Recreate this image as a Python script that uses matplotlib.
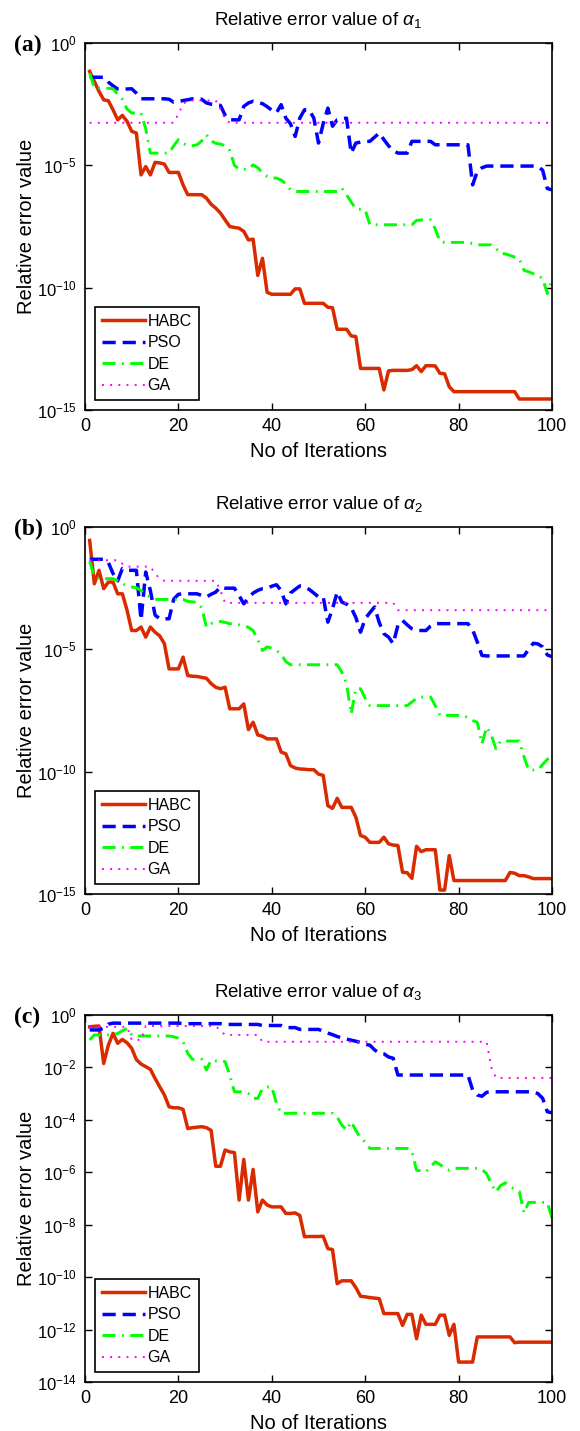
import numpy as np
import matplotlib
matplotlib.use("Agg")
import matplotlib.pyplot as plt

plt.rcParams['font.family'] = ['Liberation Sans', 'DejaVu Sans']
plt.rcParams['mathtext.fontset'] = 'custom'
plt.rcParams['mathtext.rm'] = 'Liberation Sans'
plt.rcParams['mathtext.it'] = 'Liberation Sans:italic'
plt.rcParams['mathtext.bf'] = 'Liberation Sans:bold'

iterations = list(range(1, 101))
series_names = ["HABC", "PSO", "DE", "GA"]
panel_letters = ["(a)", "(b)", "(c)"]
panel_titles = [r"Relative error value of $\alpha_1$",
                r"Relative error value of $\alpha_2$",
                r"Relative error value of $\alpha_3$"]
x_ticks = [0, 20, 40, 60, 80, 100]

# values stored as log10(relative error)
habc_a = [-1.16,-1.57,-1.98,-2.32,-2.36,-2.73,-3.14,-2.96,-3.2,-3.61,
          -3.68,-5.39,-5.05,-5.39,-4.88,-4.9,-4.95,-5.29,-5.29,-5.29,
          -5.8,-6.2,-6.2,-6.2,-6.2,-6.34,-6.59,-6.75,-6.95,-7.23,
          -7.5,-7.54,-7.57,-7.7,-8.05,-8.02,-9.5,-8.8,-10.19,-10.27,
          -10.27,-10.27,-10.27,-10.27,-10.05,-10.05,-10.64,-10.64,-10.64,-10.64,
          -10.64,-10.8,-10.82,-11.7,-11.7,-11.7,-11.97,-12.0,-13.3,-13.3,
          -13.3,-13.3,-13.3,-14.18,-13.4,-13.38,-13.38,-13.38,-13.38,-13.35,
          -13.19,-13.43,-13.19,-13.19,-13.2,-13.5,-13.52,-14.05,-14.25,-14.25,
          -14.25,-14.25,-14.25,-14.25,-14.25,-14.25,-14.25,-14.25,-14.25,-14.25,
          -14.25,-14.25,-14.55,-14.55,-14.55,-14.55,-14.55,-14.55,-14.55,-14.55]
pso_a = [-1.4,-1.4,-1.4,-1.4,-1.6,-1.75,-1.88,-1.9,-1.88,-1.87,
         -2.05,-2.28,-2.28,-2.28,-2.28,-2.28,-2.28,-2.3,-2.42,-2.4,
         -2.35,-2.32,-2.28,-2.28,-2.3,-2.45,-2.5,-2.52,-2.55,-2.95,
         -3.14,-3.14,-3.14,-2.59,-2.45,-2.38,-2.42,-2.48,-2.6,-2.75,
         -2.85,-2.52,-3.07,-3.3,-3.82,-3.07,-2.73,-2.73,-3.07,-4.09,
         -3.3,-2.66,-3.4,-3.14,-3.1,-3.07,-4.5,-4.09,-4.05,-4.02,
         -4.02,-3.85,-3.68,-3.95,-4.2,-4.4,-4.5,-4.5,-4.5,-4.02,
         -4.02,-4.02,-4.02,-4.02,-4.16,-4.16,-4.16,-4.16,-4.16,-4.16,
         -4.16,-4.16,-5.8,-5.25,-5.1,-5.03,-5.03,-5.03,-5.03,-5.03,
         -5.03,-5.03,-5.03,-5.03,-5.03,-5.03,-5.05,-5.2,-5.95,-6.0]
de_a = [-1.23,-1.84,-1.84,-1.84,-1.85,-1.87,-2.1,-2.3,-2.7,-2.86,
        -2.86,-2.86,-3.5,-4.5,-4.5,-4.5,-4.5,-4.5,-4.2,-3.95,
        -4.1,-4.2,-4.2,-4.16,-4.0,-3.75,-4.0,-4.1,-4.13,-4.2,
        -4.4,-5.0,-5.16,-5.16,-5.16,-4.98,-5.1,-5.3,-5.45,-5.52,
        -5.52,-5.6,-5.75,-6.0,-6.07,-6.07,-6.07,-6.07,-6.07,-6.07,
        -6.07,-6.07,-6.07,-6.07,-5.93,-6.2,-6.5,-6.78,-6.8,-6.82,
        -7.43,-7.43,-7.43,-7.43,-7.43,-7.43,-7.43,-7.43,-7.43,-7.43,
        -7.25,-7.23,-7.23,-7.23,-7.6,-8.11,-8.15,-8.15,-8.15,-8.15,
        -8.15,-8.15,-8.2,-8.25,-8.25,-8.25,-8.25,-8.4,-8.6,-8.62,
        -8.68,-8.75,-8.82,-9.29,-9.35,-9.43,-9.5,-9.63,-10.24,-9.7]
ga_a = [-3.26,-3.26,-3.26,-3.26,-3.26,-3.26,-3.26,-3.26,-3.26,-3.26,
        -3.26,-3.26,-3.26,-3.26,-3.26,-3.26,-3.26,-3.26,-3.26,-2.9,
        -2.5,-2.35,-2.35,-2.35,-2.35,-2.35,-2.35,-2.35,-2.7,-3.1,
        -3.26,-3.26,-3.26,-3.26,-3.26,-3.26,-3.26,-3.26,-3.26,-3.26,
        -3.26,-3.26,-3.26,-3.26,-3.26,-3.26,-3.26,-3.26,-3.26,-3.26,
        -3.26,-3.26,-3.26,-3.26,-3.26,-3.26,-3.26,-3.26,-3.26,-3.26,
        -3.26,-3.26,-3.26,-3.26,-3.26,-3.26,-3.26,-3.26,-3.26,-3.26,
        -3.26,-3.26,-3.26,-3.26,-3.26,-3.26,-3.26,-3.26,-3.26,-3.26,
        -3.26,-3.26,-3.26,-3.26,-3.26,-3.26,-3.26,-3.26,-3.26,-3.26,
        -3.26,-3.26,-3.26,-3.26,-3.26,-3.26,-3.26,-3.26,-3.26,-3.26]

habc_b = [-0.55,-2.32,-1.77,-2.52,-2.25,-2.25,-2.73,-2.73,-3.4,-4.23,
          -4.23,-4.09,-4.5,-4.09,-4.3,-4.45,-4.77,-5.8,-5.8,-5.8,
          -5.32,-6.07,-6.1,-6.11,-6.15,-6.18,-6.4,-6.55,-6.61,-6.55,
          -7.43,-7.43,-7.43,-7.23,-8.28,-7.98,-8.5,-8.55,-8.66,-8.66,
          -8.66,-9.2,-9.27,-9.75,-9.85,-9.89,-9.9,-9.92,-9.92,-10.1,
          -10.15,-11.39,-11.5,-11.09,-11.46,-11.46,-11.46,-11.86,-12.61,-12.68,
          -12.89,-12.89,-12.89,-12.68,-12.95,-13.0,-13.02,-14.11,-14.13,-14.36,
          -13.05,-13.27,-13.19,-13.19,-13.19,-14.84,-14.84,-13.43,-14.45,-14.45,
          -14.45,-14.45,-14.45,-14.45,-14.45,-14.45,-14.45,-14.45,-14.45,-14.45,
          -14.12,-14.15,-14.25,-14.25,-14.3,-14.37,-14.37,-14.37,-14.37,-14.37]
pso_b = [-1.32,-1.32,-1.32,-1.32,-1.45,-1.9,-2.2,-1.7,-1.77,-1.77,
         -1.77,-3.8,-1.84,-2.6,-3.6,-3.75,-3.75,-3.75,-2.95,-2.75,
         -2.73,-2.73,-2.73,-2.73,-2.8,-2.86,-2.75,-2.66,-2.45,-2.5,
         -2.5,-2.5,-2.8,-3.14,-2.9,-2.7,-2.59,-2.52,-2.5,-2.42,
         -2.36,-2.6,-3.14,-2.7,-2.55,-2.41,-2.45,-2.55,-2.7,-2.86,
         -2.85,-3.89,-3.34,-2.66,-3.07,-3.15,-3.3,-3.7,-4.3,-3.75,
         -3.5,-3.27,-3.9,-4.36,-4.5,-4.77,-4.02,-3.82,-4.0,-4.16,
         -4.23,-4.23,-4.23,-4.05,-3.95,-3.95,-3.95,-3.95,-3.95,-3.95,
         -3.95,-3.95,-4.2,-4.7,-5.25,-5.27,-5.27,-5.27,-5.27,-5.27,
         -5.27,-5.27,-5.27,-5.27,-5.0,-4.75,-4.78,-4.9,-5.23,-5.3]
de_b = [-1.4,-2.05,-2.11,-2.11,-2.11,-2.11,-2.2,-2.32,-2.4,-2.45,
        -2.48,-2.6,-2.75,-2.86,-2.96,-2.96,-2.96,-2.96,-2.96,-2.96,
        -2.96,-3.04,-3.06,-3.08,-3.3,-4.09,-3.95,-3.9,-3.86,-3.9,
        -3.95,-3.97,-4.0,-4.05,-4.1,-4.23,-4.6,-5.05,-4.9,-4.95,
        -5.05,-5.2,-5.5,-5.63,-5.63,-5.63,-5.63,-5.63,-5.63,-5.63,
        -5.63,-5.63,-5.63,-5.63,-5.93,-6.4,-7.64,-6.61,-6.61,-7.0,
        -7.3,-7.3,-7.3,-7.3,-7.3,-7.3,-7.3,-7.3,-7.3,-7.15,
        -7.0,-6.95,-6.95,-6.95,-7.3,-7.7,-7.7,-7.7,-7.7,-7.7,
        -7.7,-7.8,-7.91,-7.98,-8.86,-8.18,-8.5,-9.07,-8.75,-8.75,
        -8.75,-8.75,-8.75,-9.39,-9.93,-9.93,-9.93,-9.7,-9.5,-9.32]
ga_b = [-1.36,-1.36,-1.36,-1.36,-1.36,-1.36,-1.36,-1.5,-1.62,-1.62,
        -1.62,-1.62,-1.62,-1.62,-1.9,-2.11,-2.2,-2.2,-2.2,-2.2,
        -2.2,-2.2,-2.2,-2.2,-2.2,-2.2,-2.2,-2.2,-2.6,-3.1,
        -3.1,-3.1,-3.1,-3.1,-3.1,-3.1,-3.1,-3.1,-3.1,-3.1,
        -3.1,-3.1,-3.1,-3.1,-3.1,-3.1,-3.1,-3.1,-3.1,-3.1,
        -3.1,-3.1,-3.1,-3.1,-3.1,-3.1,-3.1,-3.1,-3.1,-3.1,
        -3.1,-3.1,-3.1,-3.1,-3.1,-3.1,-3.4,-3.4,-3.4,-3.4,
        -3.4,-3.4,-3.4,-3.4,-3.4,-3.4,-3.4,-3.4,-3.4,-3.4,
        -3.4,-3.4,-3.4,-3.4,-3.4,-3.4,-3.4,-3.4,-3.4,-3.4,
        -3.4,-3.4,-3.4,-3.4,-3.4,-3.4,-3.4,-3.4,-3.4,-3.4]

habc_c = [-0.45,-0.43,-0.42,-1.85,-1.15,-0.7,-1.08,-0.93,-1.06,-1.27,
          -1.7,-1.87,-1.97,-2.07,-2.42,-2.74,-3.05,-3.5,-3.54,-3.54,
          -3.6,-4.33,-4.3,-4.28,-4.26,-4.3,-4.4,-5.77,-5.77,-5.15,
          -5.22,-5.25,-7.06,-5.51,-7.06,-5.89,-7.51,-7.06,-7.25,-7.32,
          -7.32,-7.32,-7.57,-7.57,-7.55,-7.65,-8.46,-8.45,-8.45,-8.45,
          -8.44,-8.91,-8.95,-10.25,-10.14,-10.14,-10.14,-10.4,-10.73,-10.75,
          -10.78,-10.8,-10.82,-11.39,-11.39,-11.39,-11.39,-11.84,-11.42,-11.42,
          -12.35,-11.45,-11.8,-11.8,-11.8,-11.45,-11.45,-12.22,-11.8,-13.24,
          -13.24,-13.24,-13.24,-12.28,-12.28,-12.28,-12.28,-12.28,-12.28,-12.28,
          -12.28,-12.5,-12.48,-12.48,-12.48,-12.48,-12.48,-12.48,-12.48,-12.48]
pso_c = [-0.57,-0.57,-0.57,-0.5,-0.35,-0.31,-0.31,-0.32,-0.31,-0.31,
         -0.31,-0.31,-0.31,-0.31,-0.31,-0.31,-0.31,-0.31,-0.31,-0.31,
         -0.33,-0.33,-0.33,-0.33,-0.33,-0.33,-0.33,-0.33,-0.33,-0.36,
         -0.36,-0.36,-0.36,-0.36,-0.36,-0.36,-0.36,-0.4,-0.4,-0.4,
         -0.4,-0.4,-0.48,-0.48,-0.48,-0.55,-0.55,-0.55,-0.55,-0.55,
         -0.62,-0.69,-0.75,-0.82,-0.88,-0.92,-0.96,-1.0,-1.05,-1.12,
         -1.15,-1.33,-1.45,-1.48,-1.6,-1.65,-2.29,-2.29,-2.29,-2.29,
         -2.29,-2.29,-2.29,-2.29,-2.29,-2.29,-2.29,-2.29,-2.29,-2.29,
         -2.29,-2.29,-2.86,-3.05,-3.1,-2.95,-2.93,-2.93,-2.93,-2.93,
         -2.93,-2.93,-2.93,-2.93,-2.93,-2.93,-3.0,-3.18,-3.69,-3.73]
de_c = [-0.95,-0.76,-0.76,-0.76,-0.76,-0.76,-0.7,-0.6,-0.51,-0.76,
        -0.8,-0.8,-0.8,-0.8,-0.8,-0.8,-0.8,-0.8,-0.83,-0.89,
        -1.02,-1.46,-1.69,-1.69,-1.69,-2.1,-1.72,-1.75,-1.76,-1.78,
        -2.3,-2.93,-2.93,-2.93,-3.0,-3.18,-3.18,-2.8,-2.75,-2.74,
        -3.37,-3.75,-3.75,-3.75,-3.75,-3.75,-3.75,-3.75,-3.75,-3.75,
        -3.75,-3.75,-3.75,-3.9,-4.2,-4.39,-4.07,-4.4,-4.7,-4.84,
        -5.09,-5.09,-5.09,-5.09,-5.09,-5.09,-5.09,-5.09,-5.09,-5.2,
        -5.92,-5.95,-5.98,-5.8,-5.6,-5.7,-5.85,-5.92,-5.85,-5.85,
        -5.85,-5.85,-5.85,-5.85,-5.89,-6.05,-6.45,-6.75,-6.5,-6.4,
        -6.54,-6.65,-6.73,-7.55,-7.15,-7.15,-7.15,-7.15,-7.15,-7.75]
ga_c = [-0.45,-0.45,-0.45,-0.45,-0.45,-0.45,-0.45,-0.45,-0.45,-0.95,
        -0.95,-0.95,-0.42,-0.42,-0.42,-0.42,-0.42,-0.42,-0.42,-0.42,
        -0.42,-0.42,-0.42,-0.42,-0.42,-0.42,-0.42,-0.42,-0.6,-0.76,
        -0.76,-0.76,-0.76,-0.76,-0.76,-0.76,-0.76,-1.02,-1.02,-1.02,
        -1.02,-1.02,-1.02,-1.02,-1.02,-1.02,-1.02,-1.02,-1.02,-1.02,
        -1.02,-1.02,-1.02,-1.02,-1.02,-1.02,-1.02,-1.02,-1.02,-1.02,
        -1.02,-1.02,-1.02,-1.02,-1.02,-1.02,-1.02,-1.02,-1.02,-1.02,
        -1.02,-1.02,-1.02,-1.02,-1.02,-1.02,-1.02,-1.02,-1.02,-1.02,
        -1.02,-1.02,-1.02,-1.02,-1.02,-1.02,-2.0,-2.4,-2.4,-2.4,
        -2.4,-2.4,-2.4,-2.4,-2.4,-2.4,-2.4,-2.4,-2.4,-2.4]

panels = [
    (habc_a, pso_a, de_a, ga_a),
    (habc_b, pso_b, de_b, ga_b),
    (habc_c, pso_c, de_c, ga_c),
]
y_limits = [(1e-15, 1e0), (1e-15, 1e0), (1e-14, 1e0)]
y_ticks = [[1e-15, 1e-10, 1e-5, 1e0],
           [1e-15, 1e-10, 1e-5, 1e0],
           [1e-14, 1e-12, 1e-10, 1e-8, 1e-6, 1e-4, 1e-2, 1e0]]

styles = [
    dict(color='#d92a00', lw=2.5, ls='-'),
    dict(color='#0000ff', lw=2.5, ls=(0, (3.8, 2.0))),
    dict(color='#00ff00', lw=2.1, ls=(0, (4.5, 2.2, 0.6, 2.2))),
    dict(color='#ff00ff', lw=1.4, ls=(0, (1.0, 3.2))),
]

W, H = 580, 1431
fig = plt.figure(figsize=(W / 100, H / 100), dpi=100)
ax_left, ax_right = 85, 552
tops = [43, 527, 1015]
bottoms = [410, 894, 1382]

x = np.array(iterations)
for k in range(3):
    ax = fig.add_axes([ax_left / W, 1 - bottoms[k] / H,
                       (ax_right - ax_left) / W, (bottoms[k] - tops[k]) / H])
    for vals, name, st in zip(panels[k], series_names, styles):
        ax.semilogy(x, 10.0 ** np.array(vals), label=name, **st)
    ax.set_xlim(0, 100)
    ax.set_ylim(*y_limits[k])
    ax.set_xticks(x_ticks)
    ax.set_yticks(y_ticks[k])
    ax.yaxis.set_minor_locator(matplotlib.ticker.NullLocator())
    ax.tick_params(direction='in', top=True, right=True, length=5,
                   width=1, labelsize=13, pad=6)
    ax.tick_params(axis='y', labelsize=12, pad=6)
    for sp in ax.spines.values():
        sp.set_linewidth(1.2)
    ax.set_title(panel_titles[k], fontsize=13.5, pad=13)
    ax.set_xlabel("No of Iterations", fontsize=14.5, labelpad=5)
    ax.set_ylabel("Relative error value", fontsize=14.5)
    ax.yaxis.set_label_coords((36 - ax_left) / (ax_right - ax_left), 0.5)
    leg = ax.legend(loc='lower left', fontsize=11.5, frameon=True, fancybox=False,
                    edgecolor='black', framealpha=1, handlelength=2.7,
                    labelspacing=0.4, borderaxespad=0.6, handletextpad=0.15,
                    borderpad=0.45)
    leg.get_frame().set_linewidth(1.2)
    fig.text(14 / W, 1 - (tops[k] + 2) / H, panel_letters[k], fontsize=17,
             fontweight='bold', family='Liberation Serif', va='center', ha='left')

fig.savefig("out.png", dpi=100)
